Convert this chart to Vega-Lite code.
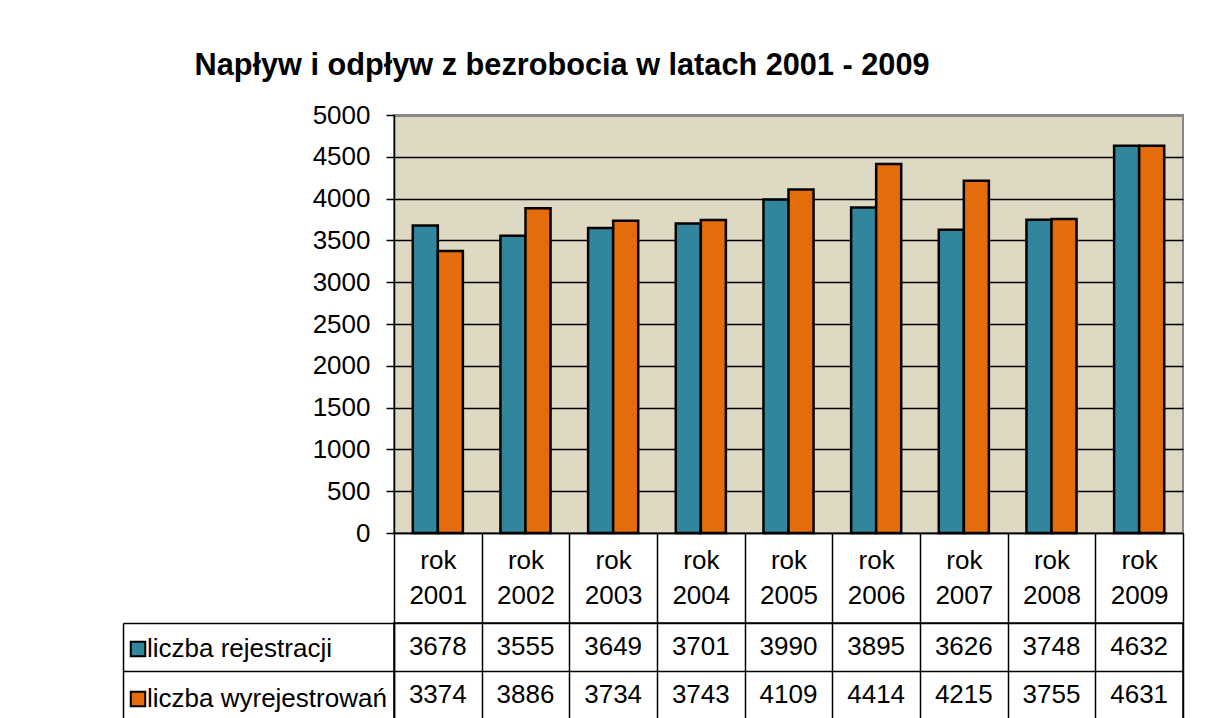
{
  "$schema": "https://vega.github.io/schema/vega-lite/v6.json",
  "padding": {"left": 121, "top": 50, "right": 20, "bottom": 0},
  "background": "white",
  "title": {
    "text": "Napływ i odpływ z bezrobocia w latach 2001 - 2009",
    "font": "Liberation Sans",
    "fontSize": 30.7,
    "fontWeight": "bold",
    "color": "black",
    "anchor": "start",
    "dx": 73,
    "offset": 19
  },
  "config": {
    "font": "Liberation Sans",
    "axis": {"labelFont": "Liberation Sans", "labelColor": "black"},
    "legend": {"labelFont": "Liberation Sans"}
  },
  "data": {
    "values": [
      {"rok": "2001", "seria": "liczba rejestracji", "wartosc": 3678},
      {"rok": "2002", "seria": "liczba rejestracji", "wartosc": 3555},
      {"rok": "2003", "seria": "liczba rejestracji", "wartosc": 3649},
      {"rok": "2004", "seria": "liczba rejestracji", "wartosc": 3701},
      {"rok": "2005", "seria": "liczba rejestracji", "wartosc": 3990},
      {"rok": "2006", "seria": "liczba rejestracji", "wartosc": 3895},
      {"rok": "2007", "seria": "liczba rejestracji", "wartosc": 3626},
      {"rok": "2008", "seria": "liczba rejestracji", "wartosc": 3748},
      {"rok": "2009", "seria": "liczba rejestracji", "wartosc": 4632},
      {"rok": "2001", "seria": "liczba wyrejestrowań", "wartosc": 3374},
      {"rok": "2002", "seria": "liczba wyrejestrowań", "wartosc": 3886},
      {"rok": "2003", "seria": "liczba wyrejestrowań", "wartosc": 3734},
      {"rok": "2004", "seria": "liczba wyrejestrowań", "wartosc": 3743},
      {"rok": "2005", "seria": "liczba wyrejestrowań", "wartosc": 4109},
      {"rok": "2006", "seria": "liczba wyrejestrowań", "wartosc": 4414},
      {"rok": "2007", "seria": "liczba wyrejestrowań", "wartosc": 4215},
      {"rok": "2008", "seria": "liczba wyrejestrowań", "wartosc": 3755},
      {"rok": "2009", "seria": "liczba wyrejestrowań", "wartosc": 4631}
    ]
  },
  "bounds": "flush",
  "spacing": 90,
  "vconcat": [
    {
      "width": 789,
      "height": 418,
      "view": {"fill": "#DDD9C3", "stroke": "#888888", "strokeWidth": 2},
      "mark": {"type": "bar", "stroke": "black", "strokeWidth": 2.5},
      "encoding": {
        "x": {
          "field": "rok",
          "type": "nominal",
          "scale": {"paddingInner": 0, "paddingOuter": 0},
          "axis": {
            "title": null,
            "labelAngle": 0,
            "labelExpr": "datum.label == null || datum.label == '' ? '' : ['rok', datum.label]",
            "labelFontSize": 26,
            "labelLineHeight": 35,
            "labelPadding": -76,
            "tickBand": "extent",
            "tickSize": 90,
            "tickColor": "black",
            "tickWidth": 1.5,
            "domainColor": "black",
            "domainWidth": 1.5
          }
        },
        "xOffset": {
          "field": "seria",
          "type": "nominal",
          "scale": {"paddingInner": 0, "paddingOuter": 0.75}
        },
        "y": {
          "field": "wartosc",
          "type": "quantitative",
          "scale": {"domain": [0, 5000]},
          "axis": {
            "title": null,
            "format": "d",
            "values": [0, 500, 1000, 1500, 2000, 2500, 3000, 3500, 4000, 4500, 5000],
            "labelFontSize": 26,
            "labelPadding": 16,
            "tickSize": 8,
            "tickColor": "black",
            "tickWidth": 1.5,
            "domainColor": "black",
            "domainWidth": 1.5,
            "grid": true,
            "gridColor": {"condition": {"test": "datum.value == 5000", "value": "#888888"}, "value": "black"},
            "gridWidth": {"condition": {"test": "datum.value == 5000", "value": 3}, "value": 1.5}
          }
        },
        "color": {
          "field": "seria",
          "type": "nominal",
          "scale": {"range": ["#31859C", "#E46C0A"]},
          "legend": {
            "title": null,
            "orient": "none",
            "legendX": -269,
            "legendY": 521,
            "symbolType": "square",
            "symbolSize": 210,
            "symbolStrokeColor": "black",
            "symbolStrokeWidth": 2,
            "symbolOpacity": 1,
            "labelFontSize": 26,
            "labelColor": "black",
            "labelLimit": 400,
            "labelOffset": -4,
            "rowPadding": 24,
            "padding": 0
          }
        }
      }
    },
    {
      "width": 789,
      "height": 96,
      "view": {"stroke": "black", "strokeWidth": 1.5},
      "layer": [
        {
          "mark": {"type": "text", "fontSize": 26, "color": "black", "font": "Liberation Sans"},
          "encoding": {
            "x": {
              "field": "rok",
              "type": "nominal",
              "scale": {"paddingInner": 0, "paddingOuter": 0},
              "axis": {
                "title": null,
                "labels": false,
                "ticks": false,
                "domain": false,
                "grid": true,
                "tickBand": "extent",
                "gridColor": "black",
                "gridWidth": 1.5
              }
            },
            "y": {
              "field": "seria",
              "type": "nominal",
              "axis": {
                "title": null,
                "labels": false,
                "tickBand": "extent",
                "tickSize": 271,
                "tickColor": "black",
                "tickWidth": 1.5,
                "grid": true,
                "gridColor": "black",
                "gridWidth": 1.5,
                "domainColor": "black",
                "domainWidth": 1.5
              }
            },
            "text": {"field": "wartosc", "type": "quantitative", "format": "d"}
          }
        },
        {
          "mark": {"type": "text", "opacity": 0},
          "encoding": {
            "x": {"field": "rok", "type": "nominal"},
            "y": {
              "field": "seria",
              "type": "nominal",
              "axis": {
                "orient": "left",
                "offset": 271,
                "title": null,
                "labels": false,
                "ticks": false,
                "grid": false,
                "domainColor": "black",
                "domainWidth": 1.5
              }
            },
            "text": {"field": "wartosc", "type": "quantitative", "format": "d"}
          }
        }
      ],
      "resolve": {"axis": {"y": "independent"}}
    }
  ]
}
